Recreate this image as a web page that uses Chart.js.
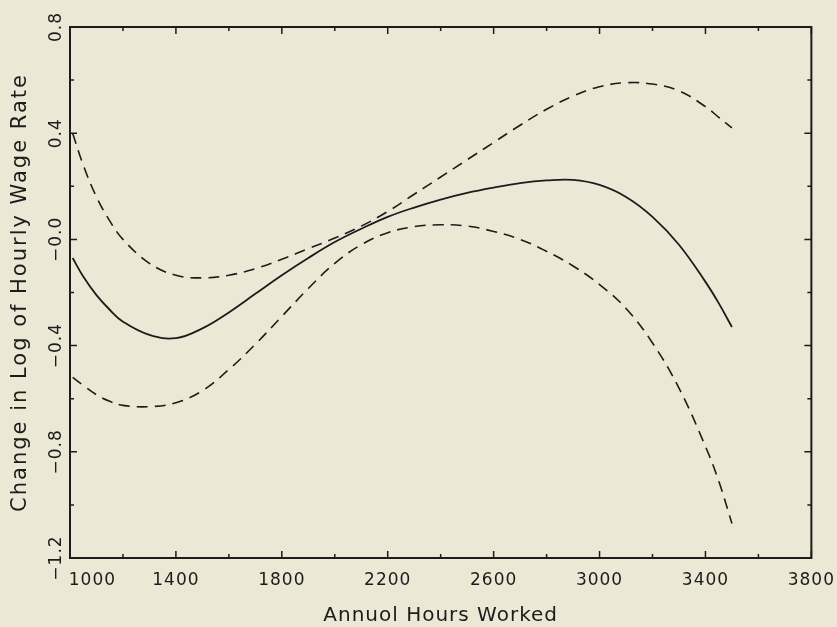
<!DOCTYPE html>
<html>
<head>
<meta charset="utf-8">
<script src="https://cdn.jsdelivr.net/npm/chart.js@4"></script>
<style>
  html, body { margin: 0; padding: 0; background: #ebe8d6; }
  canvas { display: block; }
</style>
</head>
<body>
<canvas id="wageChart" width="837" height="627"></canvas>
<script>
// annual hours (x) and the fitted change in log wage with its two bands
const hours = [1010, 1050, 1100, 1150, 1200, 1300, 1400, 1500, 1600, 1700, 1800, 1900, 2000, 2100, 2200, 2300, 2400, 2500, 2600, 2700, 2800, 2900, 3000, 3100, 3200, 3300, 3400, 3450, 3500];
const fitted = [-0.07, -0.14, -0.21, -0.265, -0.31, -0.36, -0.372, -0.335, -0.275, -0.205, -0.135, -0.07, -0.01, 0.04, 0.085, 0.12, 0.15, 0.175, 0.195, 0.212, 0.222, 0.224, 0.205, 0.16, 0.085, -0.02, -0.16, -0.24, -0.33];
const upperBand = [0.40, 0.28, 0.16, 0.07, 0.0, -0.09, -0.135, -0.145, -0.135, -0.11, -0.075, -0.035, 0.005, 0.05, 0.105, 0.17, 0.235, 0.30, 0.365, 0.43, 0.49, 0.54, 0.575, 0.59, 0.585, 0.56, 0.50, 0.46, 0.42];
const lowerBand = [-0.52, -0.55, -0.585, -0.61, -0.625, -0.63, -0.615, -0.57, -0.49, -0.395, -0.29, -0.185, -0.09, -0.02, 0.025, 0.048, 0.055, 0.05, 0.03, 0.0, -0.045, -0.10, -0.17, -0.26, -0.39, -0.56, -0.78, -0.91, -1.07];

const xMin = 1000, xMax = 3800, xStep = 200;
const yMin = -1.2, yMax = 0.8, yStep = 0.2;
const xTitle = "Annuol Hours Worked";
const yTitle = "Change in Log of Hourly Wage Rate";

const ink = "#1c1c1c";
const toPoints = (ys) => hours.map((h, i) => ({x: h, y: ys[i]}));

// box round the plot, with short ticks pointing inward on all four sides
const framePlugin = {
    id: "frame",
    beforeDraw(chart) {
        // the old plot's lettering is spaced a little wider
        chart.ctx.letterSpacing = "1px";
        const y = chart.scales.y;
        if (!y._wideTitle) {
            const orig = y.drawTitle;
            y.drawTitle = function () {
                const old = this.ctx.letterSpacing;
                this.ctx.letterSpacing = "2px";
                orig.call(this);
                this.ctx.letterSpacing = old;
            };
            y._wideTitle = true;
        }
    },
    afterDatasetsDraw(chart) {
        const {ctx, chartArea: a, scales} = chart;
        ctx.save();
        ctx.strokeStyle = ink;
        ctx.lineWidth = 1.5;
        scales.x.ticks.forEach(t => {
            const px = scales.x.getPixelForValue(t.value);
            const len = t.label !== "" ? 7 : 4;
            ctx.beginPath();
            ctx.moveTo(px, a.bottom); ctx.lineTo(px, a.bottom - len);
            ctx.moveTo(px, a.top); ctx.lineTo(px, a.top + len);
            ctx.stroke();
        });
        scales.y.ticks.forEach(t => {
            const py = scales.y.getPixelForValue(t.value);
            const len = t.label !== "" ? 7 : 4;
            ctx.beginPath();
            ctx.moveTo(a.left, py); ctx.lineTo(a.left + len, py);
            ctx.moveTo(a.right, py); ctx.lineTo(a.right - len, py);
            ctx.stroke();
        });
        ctx.lineWidth = 2;
        ctx.strokeRect(a.left, a.top, a.right - a.left, a.bottom - a.top);
        ctx.restore();
    },
    afterDraw(chart) {
        chart.ctx.letterSpacing = "0px";
    }
};

new Chart("wageChart", {
    type: "line",
    data: {
        datasets: [
            {data: toPoints(fitted), borderColor: ink, borderWidth: 1.8},
            {data: toPoints(upperBand), borderColor: ink, borderWidth: 1.6, borderDash: [11, 7]},
            {data: toPoints(lowerBand), borderColor: ink, borderWidth: 1.6, borderDash: [11, 7]}
        ]
    },
    options: {
        responsive: false,
        animation: false,
        layout: {padding: {top: 27, right: 1, left: 0, bottom: 0}},
        elements: {
            point: {radius: 0},
            line: {tension: 0.4, fill: false}
        },
        plugins: {legend: {display: false}, tooltip: {enabled: false}},
        scales: {
            x: {
                type: "linear",
                min: xMin, max: xMax,
                grid: {display: false},
                border: {display: false},
                afterFit: (s) => { s.height = 69; },
                ticks: {
                    stepSize: xStep,
                    autoSkip: false,
                    maxRotation: 0,
                    padding: 4,
                    color: ink,
                    font: {family: "DejaVu Sans", size: 17},
                    callback: (v) => {
                        if ((v - xMin) % 400 !== 0) return "";
                        // first label sits clear of the corner, as in the original
                        return v === xMin ? "\u00a0".repeat(7) + v : String(v);
                    }
                },
                title: {
                    display: true,
                    text: xTitle,
                    color: ink,
                    font: {family: "DejaVu Sans", size: 20},
                    padding: {top: 0, bottom: -1}
                }
            },
            y: {
                min: yMin, max: yMax,
                grid: {display: false},
                border: {display: false},
                afterFit: (s) => { s.width = 70; },
                ticks: {
                    stepSize: yStep,
                    autoSkip: false,
                    minRotation: 90,
                    maxRotation: 90,
                    crossAlign: "center",
                    padding: -15,
                    color: ink,
                    font: {family: "DejaVu Sans", size: 17},
                    callback: (v) => {
                        const k = Math.round(v * 10);
                        if (k % 4 !== 0) return "";
                        if (k === 0) return "\u22120.0";
                        return (k / 10).toFixed(1).replace("-", "\u2212");
                    }
                },
                title: {
                    display: true,
                    text: yTitle,
                    color: ink,
                    font: {family: "DejaVu Sans", size: 21},
                    padding: {top: 8, bottom: 0}
                }
            }
        }
    },
    plugins: [framePlugin]
});
</script>
</body>
</html>
